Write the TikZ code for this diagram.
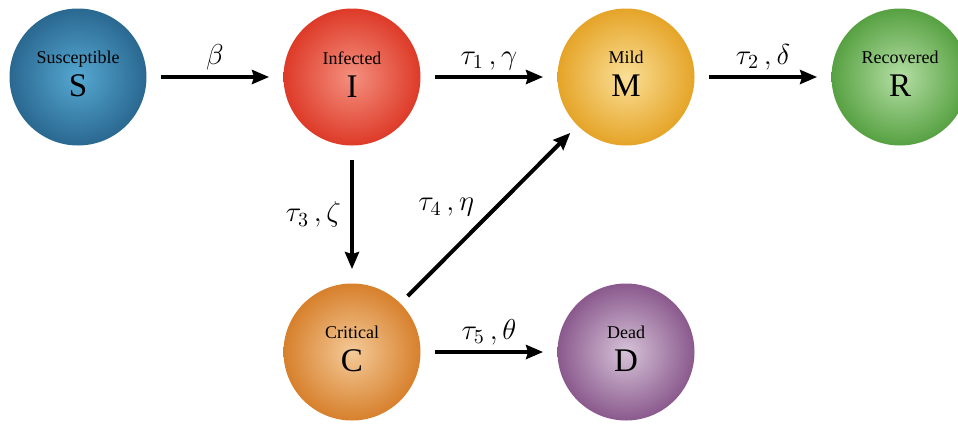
\documentclass[tikz,border=0pt]{standalone}
\usepackage{fontspec}
\setmainfont{Liberation Serif}
\usetikzlibrary{arrows.meta,positioning}

\definecolor{suscIn}{HTML}{55A8D2}
\definecolor{suscOut}{HTML}{2A6890}
\definecolor{infIn}{HTML}{F4907F}
\definecolor{infOut}{HTML}{DE3A28}
\definecolor{mildIn}{HTML}{FADF96}
\definecolor{mildOut}{HTML}{E5A428}
\definecolor{recIn}{HTML}{B4DEA4}
\definecolor{recOut}{HTML}{57A142}
\definecolor{critIn}{HTML}{F4CA98}
\definecolor{critOut}{HTML}{D7802C}
\definecolor{deadIn}{HTML}{D6C3D8}
\definecolor{deadOut}{HTML}{8A598D}

\newcommand{\compname}[2]{#1\\{\fontsize{16.5}{16.5}\selectfont #2\rule[-2.8pt]{0pt}{0pt}}}

\tikzset{
  comp/.style 2 args={circle, minimum size=68.5pt, inner sep=0pt, align=center,
    font=\fontsize{9}{16.5}\selectfont, inner color=#1, outer color=#2},
  flow/.style={line width=2pt, -{Stealth[length=8.5pt,width=7pt,inset=1pt]},
    shorten <=7pt, shorten >=7pt},
  rate/.style={font=\fontsize{14}{15}\selectfont, inner sep=0pt}
}

\begin{document}
\begin{tikzpicture}[x=0.5pt,y=0.5pt]
  \useasboundingbox (0,0) rectangle (958,425);
  % compartments
  \node[comp={suscIn}{suscOut}] (S) at (78,348) {\compname{Susceptible}{S}};
  \node[comp={infIn}{infOut}]   (I) at (352,348) {\compname{Infected}{I}};
  \node[comp={mildIn}{mildOut}] (M) at (626,348) {\compname{Mild}{M}};
  \node[comp={recIn}{recOut}]   (R) at (900,348) {\compname{Recovered}{R}};
  \node[comp={critIn}{critOut}] (C) at (352,73) {\compname{Critical}{C}};
  \node[comp={deadIn}{deadOut}] (D) at (626,73) {\compname{Dead}{D}};
  % transitions
  \draw[flow] (S) -- node[rate, above=2.5pt] {$\beta$} (I);
  \draw[flow] (I) -- node[rate, above=2.5pt] {$\tau_1\,,\gamma$} (M);
  \draw[flow] (M) -- node[rate, above=2.5pt] {$\tau_2\,,\delta$} (R);
  \draw[flow] (I) -- node[rate, left=4.5pt] {$\tau_3\,,\zeta$} (C);
  \draw[flow, shorten <=5pt, shorten >=5pt] (C) -- node[rate, anchor=south east, xshift=-6.5pt, yshift=-2pt] {$\tau_4\,,\eta$} (M);
  \draw[flow] (C) -- node[rate, above=2.5pt] {$\tau_5\,,\theta$} (D);
\end{tikzpicture}
\end{document}
